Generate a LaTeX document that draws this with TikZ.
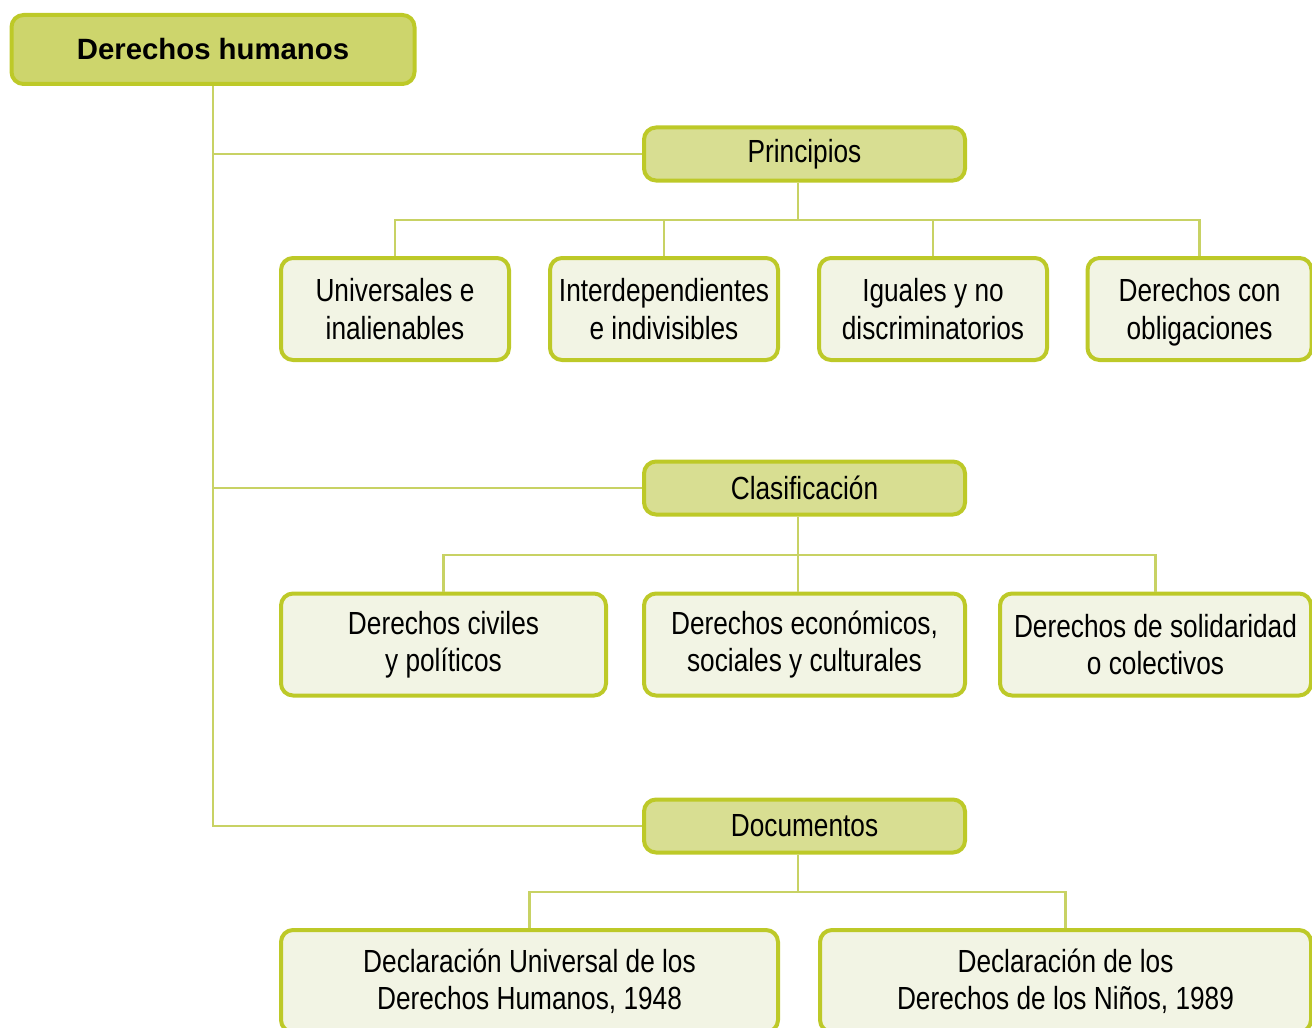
\documentclass[tikz,border=0pt]{standalone}
\usepackage{fontspec}
\setmainfont{Liberation Sans}
\newfontfamily\condfont[FakeStretch=0.82]{Liberation Sans}
\definecolor{dhborde}{RGB}{189,201,40}
\definecolor{dhlinea}{RGB}{200,210,100}
\definecolor{dhtitulo}{RGB}{205,213,108}
\definecolor{dhgrupo}{RGB}{216,222,146}
\definecolor{dhhoja}{RGB}{242,244,228}
\begin{document}
\begin{tikzpicture}[x=0.75pt,y=-0.75pt,
  caja/.style={draw=dhborde,line width=3pt,rounded corners=9pt,align=center,inner sep=0pt},
  titulo/.style={caja,fill=dhtitulo,font=\bfseries\fontsize{22}{26}\selectfont},
  grupo/.style={caja,fill=dhgrupo,minimum width=240.75pt,minimum height=39.75pt,font=\condfont\fontsize{24}{28}\selectfont},
  hoja/.style={caja,fill=dhhoja,minimum height=76.5pt,font=\condfont\fontsize{24}{28}\selectfont},
  linea/.style={draw=dhlinea,line width=2.2pt}]
\useasboundingbox (0,0) rectangle (1312,1027);
\coordinate (t) at (213,49.5);
\coordinate (g1) at (804.5,154);
\coordinate (g2) at (804.5,488);
\coordinate (g3) at (804.5,826);
\coordinate (b1) at (798,220);
\coordinate (b2) at (798,555);
\coordinate (b3) at (798,892);

  \node (dh) at (t) [titulo,minimum width=302.25pt,minimum height=51.75pt] {Derechos humanos};
  \node (prin) at (g1) [grupo] {Principios};
  \node (clas) at (g2) [grupo] {Clasificación};
  \node (doc) at (g3) [grupo] {Documentos};

  \node (p1) at (395,309) [hoja,minimum width=171pt] {Universales e\\inalienables};
  \node (p2) at (664,309) [hoja,minimum width=171pt] {Interdependientes\\e indivisibles};
  \node (p3) at (933,309) [hoja,minimum width=171pt] {Iguales y no\\discriminatorios};
  \node (p4) at (1199.5,309) [hoja,minimum width=168pt,text depth=-6pt] {Derechos con\\obligaciones};

  \node (c1) at (443.5,644.5) [hoja,minimum width=243.75pt] {Derechos civiles\\y políticos};
  \node (c2) at (804.5,644.5) [hoja,minimum width=240.75pt] {Derechos económicos,\\sociales y culturales};
  \node (c3) at (1155.5,644.5) [hoja,minimum width=233.25pt] {Derechos de solidaridad\\o colectivos};

  \node (d1) at (529.5,981) [hoja,minimum width=372.75pt] {Declaración Universal de los\\Derechos Humanos, 1948};
  \node (d2) at (1065.5,981) [hoja,minimum width=368.25pt] {Declaración de los\\Derechos de los Niños, 1989};

  \draw[linea] (dh.south) |- (prin.west);
  \draw[linea] (dh.south) |- (clas.west);
  \draw[linea] (dh.south) |- (doc.west);

  \draw[linea] (prin.south -| b1) -- (b1);
  \draw[linea] (b1) -| (p1.north);
  \draw[linea] (b1) -| (p2.north);
  \draw[linea] (b1) -| (p3.north);
  \draw[linea] (b1) -| (p4.north);

  \draw[linea] (clas.south -| b2) -- (b2);
  \draw[linea] (b2) -| (c1.north);
  \draw[linea] (b2) -- (c2.north -| b2);
  \draw[linea] (b2) -| (c3.north);

  \draw[linea] (doc.south -| b3) -- (b3);
  \draw[linea] (b3) -| (d1.north);
  \draw[linea] (b3) -| (d2.north);
\end{tikzpicture}
\end{document}
